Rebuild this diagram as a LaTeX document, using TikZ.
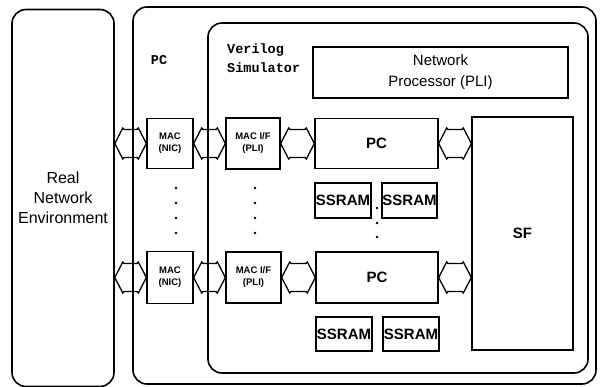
\documentclass[tikz,border=0pt]{standalone}
\usepackage{fontspec}
\setmainfont{Liberation Sans}
\newfontfamily\labelmono{Liberation Mono}
\usetikzlibrary{calc}

\tikzset{
  blk/.style={draw, line width=1.3pt, inner sep=0pt, align=center, font=\fontsize{15}{18}\selectfont},
  boldblk/.style={blk, font=\bfseries\fontsize{15}{18}\selectfont},
  smallblk/.style={blk, font=\bfseries\fontsize{9.5}{12}\selectfont},
  outer/.style={draw, line width=1.6pt, rounded corners=14pt, inner sep=0pt},
  hexarr/.style={draw, line width=1.3pt, line join=miter},
  vdot/.style={fill=black, circle, inner sep=0pt, minimum size=2.6pt}
}

% bidirectional fat arrow between two points at the same height
\newcommand{\hexlink}[2]{%
  \draw[hexarr] let \p1=(#1), \p2=(#2) in
    (\p1) -- (\x1+8pt,\y1+15.5pt) -- (\x1+9.5pt,\y1+14pt) -- (\x2-9.5pt,\y1+14pt)
    -- (\x2-8pt,\y1+15.5pt) -- (\x2,\y1) -- (\x2-8pt,\y1-15.5pt) -- (\x2-9.5pt,\y1-14pt)
    -- (\x1+9.5pt,\y1-14pt) -- (\x1+8pt,\y1-15.5pt) -- cycle;}

\begin{document}
\begin{tikzpicture}[x=1pt, y=-1pt]
  \useasboundingbox (0,0) rectangle (600,387);

  % outer frames
  \node[outer, minimum width=102, minimum height=377, align=center,
        font=\fontsize{16}{20}\selectfont] (real) at (63,198) {Real\\Network\\Environment};
  \node[outer, minimum width=463, minimum height=377] (pchost) at (364.5,195.5) {};
  \node[outer, minimum width=380, minimum height=350] (vsim) at (398,198) {};

  \node[font=\labelmono\bfseries\fontsize{13.5}{16}\selectfont] (pclabel) at (159,60) {PC};
  \node[font=\labelmono\bfseries\fontsize{13.5}{19}\selectfont, align=left, anchor=north west,
        inner sep=0pt] (vlabel) at (227,44) {Verilog\\Simulator};

  % network processor
  \node[blk, minimum width=255, minimum height=51, font=\fontsize{15}{21}\selectfont]
        (netproc) at (440.5,72.5) {Network\\Processor (PLI)};

  % first row
  \node[smallblk, minimum width=46, minimum height=50] (mac1) at (170,143.5) {MAC\\(NIC)};
  \node[smallblk, minimum width=54, minimum height=51] (mif1) at (253,143.5) {MAC I/F\\(PLI)};
  \node[boldblk, minimum width=123, minimum height=50] (pc1) at (376.5,143.5) {PC};
  \node[boldblk, minimum width=56, minimum height=35] (sr1) at (343,200.5) {SSRAM};
  \node[boldblk, minimum width=55, minimum height=35] (sr2) at (409.5,200.5) {SSRAM};

  % second row
  \node[smallblk, minimum width=46, minimum height=52] (mac2) at (170,277.5) {MAC\\(NIC)};
  \node[smallblk, minimum width=55, minimum height=51] (mif2) at (253.5,277.5) {MAC I/F\\(PLI)};
  \node[boldblk, minimum width=122, minimum height=51] (pc2) at (377,277.5) {PC};
  \node[boldblk, minimum width=56, minimum height=34] (sr3) at (344,334) {SSRAM};
  \node[boldblk, minimum width=56, minimum height=34] (sr4) at (411,334) {SSRAM};

  % switch fabric
  \node[boldblk, minimum width=101, minimum height=233] (sf) at (522.5,233.5) {SF};

  % fat arrows
  \coordinate (re1) at (mac1.west -| real.east);
  \coordinate (re2) at (mac2.west -| real.east);
  \coordinate (sf1) at (pc1.east -| sf.west);
  \coordinate (sf2) at (pc2.east -| sf.west);
  \hexlink{re1}{mac1.west}
  \hexlink{mac1.east}{mif1.west}
  \hexlink{mif1.east}{pc1.west}
  \hexlink{pc1.east}{sf1}
  \hexlink{re2}{mac2.west}
  \hexlink{mac2.east}{mif2.west}
  \hexlink{mif2.east}{pc2.west}
  \hexlink{pc2.east}{sf2}

  % ellipsis dots
  \foreach \y in {188,203,218,233} {
    \node[vdot] at (176,\y) {};
    \node[vdot] at (255,\y) {};
  }
  \foreach \y in {208,223,237}
    \node[vdot] at (377,\y) {};
\end{tikzpicture}
\end{document}
